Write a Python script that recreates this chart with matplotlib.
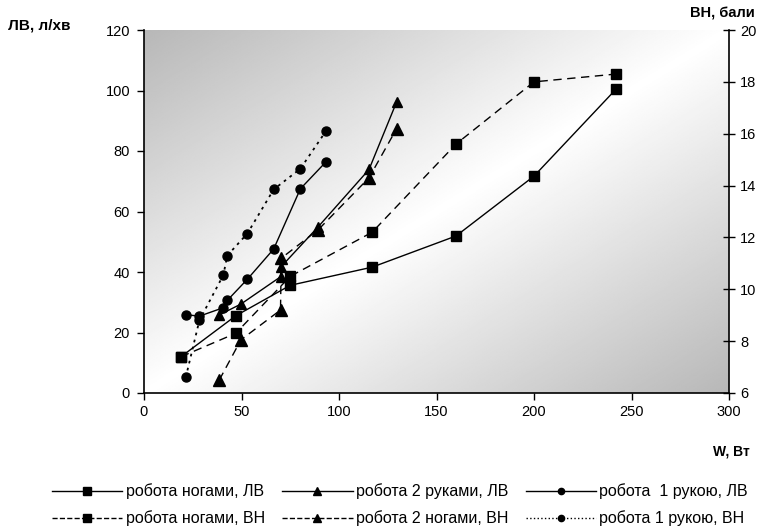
import numpy as np
import matplotlib
matplotlib.use("Agg")
import matplotlib.pyplot as plt
from matplotlib.lines import Line2D

plt.rcParams['font.family'] = ['Liberation Sans', 'DejaVu Sans']
plt.rcParams['font.size'] = 10

# robota nogami
w_nogy = [19, 47, 75, 117, 160, 200, 242]
lv_nogy = [12.0, 25.5, 35.6, 41.6, 51.9, 71.7, 100.4]
vn_nogy = [7.4, 8.3, 10.5, 12.2, 15.6, 18.0, 18.3]

# robota 2 rukami / 2 nogami
w_ruky2 = [38.6, 49.7, 70, 70.4, 89.4, 115.4, 129.6]
lv_ruky2 = [25.8, 29.4, 38.4, 41.8, 55.0, 73.9, 96.3]
vn_ruky2 = [6.5, 8.05, 9.2, 11.2, 12.3, 14.3, 16.2]

# robota 1 rukoju
w_ruka1 = [21.4, 28.4, 40.7, 42.7, 53.0, 66.5, 80.2, 93.3]
lv_ruka1 = [25.9, 25.4, 28.2, 30.6, 37.6, 47.6, 67.5, 76.4]
vn_ruka1 = [6.6, 8.8, 10.55, 11.3, 12.15, 13.85, 14.65, 16.1]

labels = ['робота ногами, ЛВ', 'робота ногами, ВН',
          'робота 2 руками, ЛВ', 'робота 2 ногами, ВН',
          'робота  1 рукою, ЛВ', 'робота 1 рукою, ВН']

fig = plt.figure(figsize=(7.65, 5.28), dpi=100)
ax = fig.add_axes([144/765, 1-393/528, (729-144)/765, (393-30)/528])
ax2 = ax.twinx()

# diagonal grey-white-grey background
n = 300
u = np.linspace(0, 1, n)
U, V = np.meshgrid(u, u)
t = (U + V) / 2
g = 1 - 0.28 * np.abs(2*t - 1)
ax.imshow(g, cmap='gray', vmin=0, vmax=1, extent=[0, 1, 0, 1], origin='upper',
          transform=ax.transAxes, aspect='auto', zorder=0, interpolation='bilinear')

k = dict(color='black', lw=1.0, zorder=3)
dash = (0, (6, 4))
l1, = ax.plot(w_nogy, lv_nogy, marker='s', ms=7.5, **k)
l3, = ax.plot(w_ruky2, lv_ruky2, marker='^', ms=7, **k)
l5, = ax.plot(w_ruka1, lv_ruka1, marker='o', ms=6.5, **k)
l2, = ax2.plot(w_nogy, vn_nogy, marker='s', ms=7.5, ls=dash, **k)
l4, = ax2.plot(w_ruky2, vn_ruky2, marker='^', ms=9, ls=dash, **k)
l6, = ax2.plot(w_ruka1, vn_ruka1, marker='o', ms=6.5, ls=(0, (1.5, 2.5)), lw=1.3, color='black', zorder=3)

ax.set_xlim(0, 300)
ax.set_ylim(0, 120)
ax2.set_ylim(6, 20)
ax.set_xticks(np.arange(0, 301, 50))
ax.set_yticks(np.arange(0, 121, 20))
ax2.set_yticks(np.arange(6, 21, 2))

ax.spines['top'].set_visible(False)
ax.spines['right'].set_visible(False)
ax2.spines['top'].set_visible(False)
ax2.spines['left'].set_visible(False)
ax2.spines['bottom'].set_visible(False)
for s in ['left', 'bottom']:
    ax.spines[s].set_linewidth(1.2)
ax2.spines['right'].set_linewidth(1.2)
ax.tick_params(direction='out', length=5, width=1, labelsize=10.5, pad=5)
ax2.tick_params(direction='inout', length=8, width=1, labelsize=10.5, pad=4)
ax.xaxis.set_tick_params(pad=4)

fig.text(8/765, 1-25/528, 'ЛВ, л/хв', fontsize=11, fontweight='bold', va='center', ha='left')
fig.text(755/765, 1-14/528, 'ВН, бали', fontsize=10.5, fontweight='bold', va='center', ha='right')
fig.text(750/765, 1-452/528, 'W, Вт', fontsize=10, fontweight='bold', va='center', ha='right')

hs = []
for ls_, m in [('-', 's'), ('--', 's'), ('-', '^'), ('--', '^'), ('-', 'o'), (':', 'o')]:
    hs.append(Line2D([], [], color='black', lw=1, ls=ls_, marker=m,
                     ms=5.5 if m != 'o' else 4.5))
fig.legend(hs, labels, loc='center', bbox_to_anchor=(400/765, 1-505/528), ncol=3,
           frameon=False, handlelength=4.4, handletextpad=0.2, columnspacing=1.1,
           labelspacing=0.7, fontsize=11.5, borderpad=0)

fig.savefig('out.png', dpi=100)
